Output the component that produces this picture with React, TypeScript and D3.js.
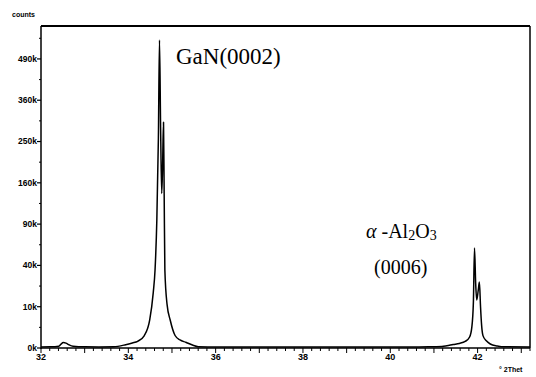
import * as d3 from "d3";

// 2θ (degrees) and intensity (counts)
const twoTheta = [
  32.0, 32.204, 32.408, 32.459, 32.51, 32.571, 32.643, 32.735, 33.02, 33.327, 33.663, 33.939,
  34.092, 34.214, 34.367, 34.49, 34.571, 34.612, 34.653, 34.689, 34.714, 34.74, 34.765,
  34.786, 34.806, 34.821, 34.837, 34.888, 34.959, 35.071, 35.184, 35.316, 35.469, 35.602,
  36.082, 37.102, 38.122, 39.143, 40.163, 40.877, 41.184, 41.296, 41.439, 41.582, 41.715, 41.817,
  41.867, 41.903, 41.929, 41.955, 41.98, 42.016, 42.041, 42.067, 42.092, 42.123,
  42.2, 42.29, 42.45, 42.62, 43.2,
];
const counts = [
  6, 8, 20, 90, 170, 140, 60, 20, 8, 6, 8, 64,
  150, 263, 916, 4600, 18000, 35700, 96000, 260000, 556000, 280000, 140000,
  200000, 299000, 140000, 35700, 11000, 4600, 916, 380, 190, 50, 10,
  6, 5, 5, 5, 6, 8, 12, 28, 70, 124, 250, 710,
  2500, 12000, 58600, 25000, 13500, 20000, 25500, 10000, 3000, 900,
  300, 94, 25, 8, 6,
];

const yTickValues = [0, 10000, 40000, 90000, 160000, 250000, 360000, 490000];
const yMinorValues = [2500, 22500, 62500, 122500, 202500, 302500, 422500, 562500];
const xLabelValues = [32, 34, 36, 38, 40, 42];

const W = 536;
const H = 377;
const left = 41;
const right = 530;
const top = 26;
const bottom = 348;

export default function App() {
  const x = d3.scaleLinear().domain([32, 43.2]).range([left, right]);
  const y = d3.scaleSqrt().domain([0, 608000]).range([bottom, top]);

  const pts = twoTheta.map((t, i) => [t, counts[i]] as [number, number]);
  const line = d3
    .line<[number, number]>()
    .x((d) => x(d[0]))
    .y((d) => y(d[1]))
    .curve(d3.curveMonotoneX);

  const xTicks = d3.range(0, 57).map((i) => 32 + i * 0.2);

  const tickFont = { fontFamily: "Liberation Sans, Arial, sans-serif", fontWeight: 700, fontSize: 8.5 };

  return (
    <svg
      width={W}
      height={H}
      style={{ position: "absolute", left: 0, top: 0, background: "#fff" }}
    >
      {/* frame */}
      <line x1={left} x2={right} y1={top} y2={top} stroke="#000" strokeWidth={2} />
      <line x1={right} x2={right} y1={top} y2={bottom} stroke="#000" strokeWidth={1.5} />
      <line x1={left} x2={left} y1={top} y2={bottom + 1} stroke="#000" strokeWidth={1.5} />
      <line x1={left} x2={right} y1={bottom} y2={bottom} stroke="#000" strokeWidth={1.5} />

      {/* y ticks */}
      {yTickValues.map((v) => (
        <g key={v}>
          <line x1={left - 4} x2={left} y1={y(v)} y2={y(v)} stroke="#000" strokeWidth={1.2} />
          <text x={left - 4} y={y(v)} dy="0.35em" textAnchor="end" {...tickFont}>
            {`${v / 1000}k`}
          </text>
        </g>
      ))}
      {yMinorValues.map((v) => (
        <line key={v} x1={left - 2} x2={left} y1={y(v)} y2={y(v)} stroke="#000" strokeWidth={1} />
      ))}

      {/* x ticks */}
      {xTicks.map((t, i) => {
        const major = i % 5 === 0;
        return (
          <line
            key={i}
            x1={x(t)}
            x2={x(t)}
            y1={bottom}
            y2={bottom + (major ? 5 : 3)}
            stroke="#000"
            strokeWidth={1}
          />
        );
      })}
      {xLabelValues.map((v) => (
        <text key={v} x={x(v)} y={bottom + 12} textAnchor="middle" {...tickFont} fontSize={9}>
          {v}
        </text>
      ))}

      <text x={12} y={17} {...tickFont} fontSize={7}>
        counts
      </text>
      <text x={499} y={372} {...tickFont} fontSize={7}>
        ° 2Thet
      </text>

      {/* diffraction pattern */}
      <path d={line(pts) ?? ""} fill="none" stroke="#000" strokeWidth={1.5} strokeLinejoin="round" />

      {/* peak annotations */}
      <g fontFamily="Liberation Serif, Times New Roman, serif" fill="#000">
        <text x={176} y={64} fontSize={23}>
          GaN(0002)
        </text>
        <text x={366} y={238} fontSize={20}>
          <tspan fontStyle="italic">α</tspan>
          <tspan> -Al</tspan>
          <tspan fontSize={14} dy={2}>2</tspan>
          <tspan dy={-2}>O</tspan>
          <tspan fontSize={14} dy={2}>3</tspan>
        </text>
        <text x={374} y={274} fontSize={20}>
          (0006)
        </text>
      </g>
    </svg>
  );
}
